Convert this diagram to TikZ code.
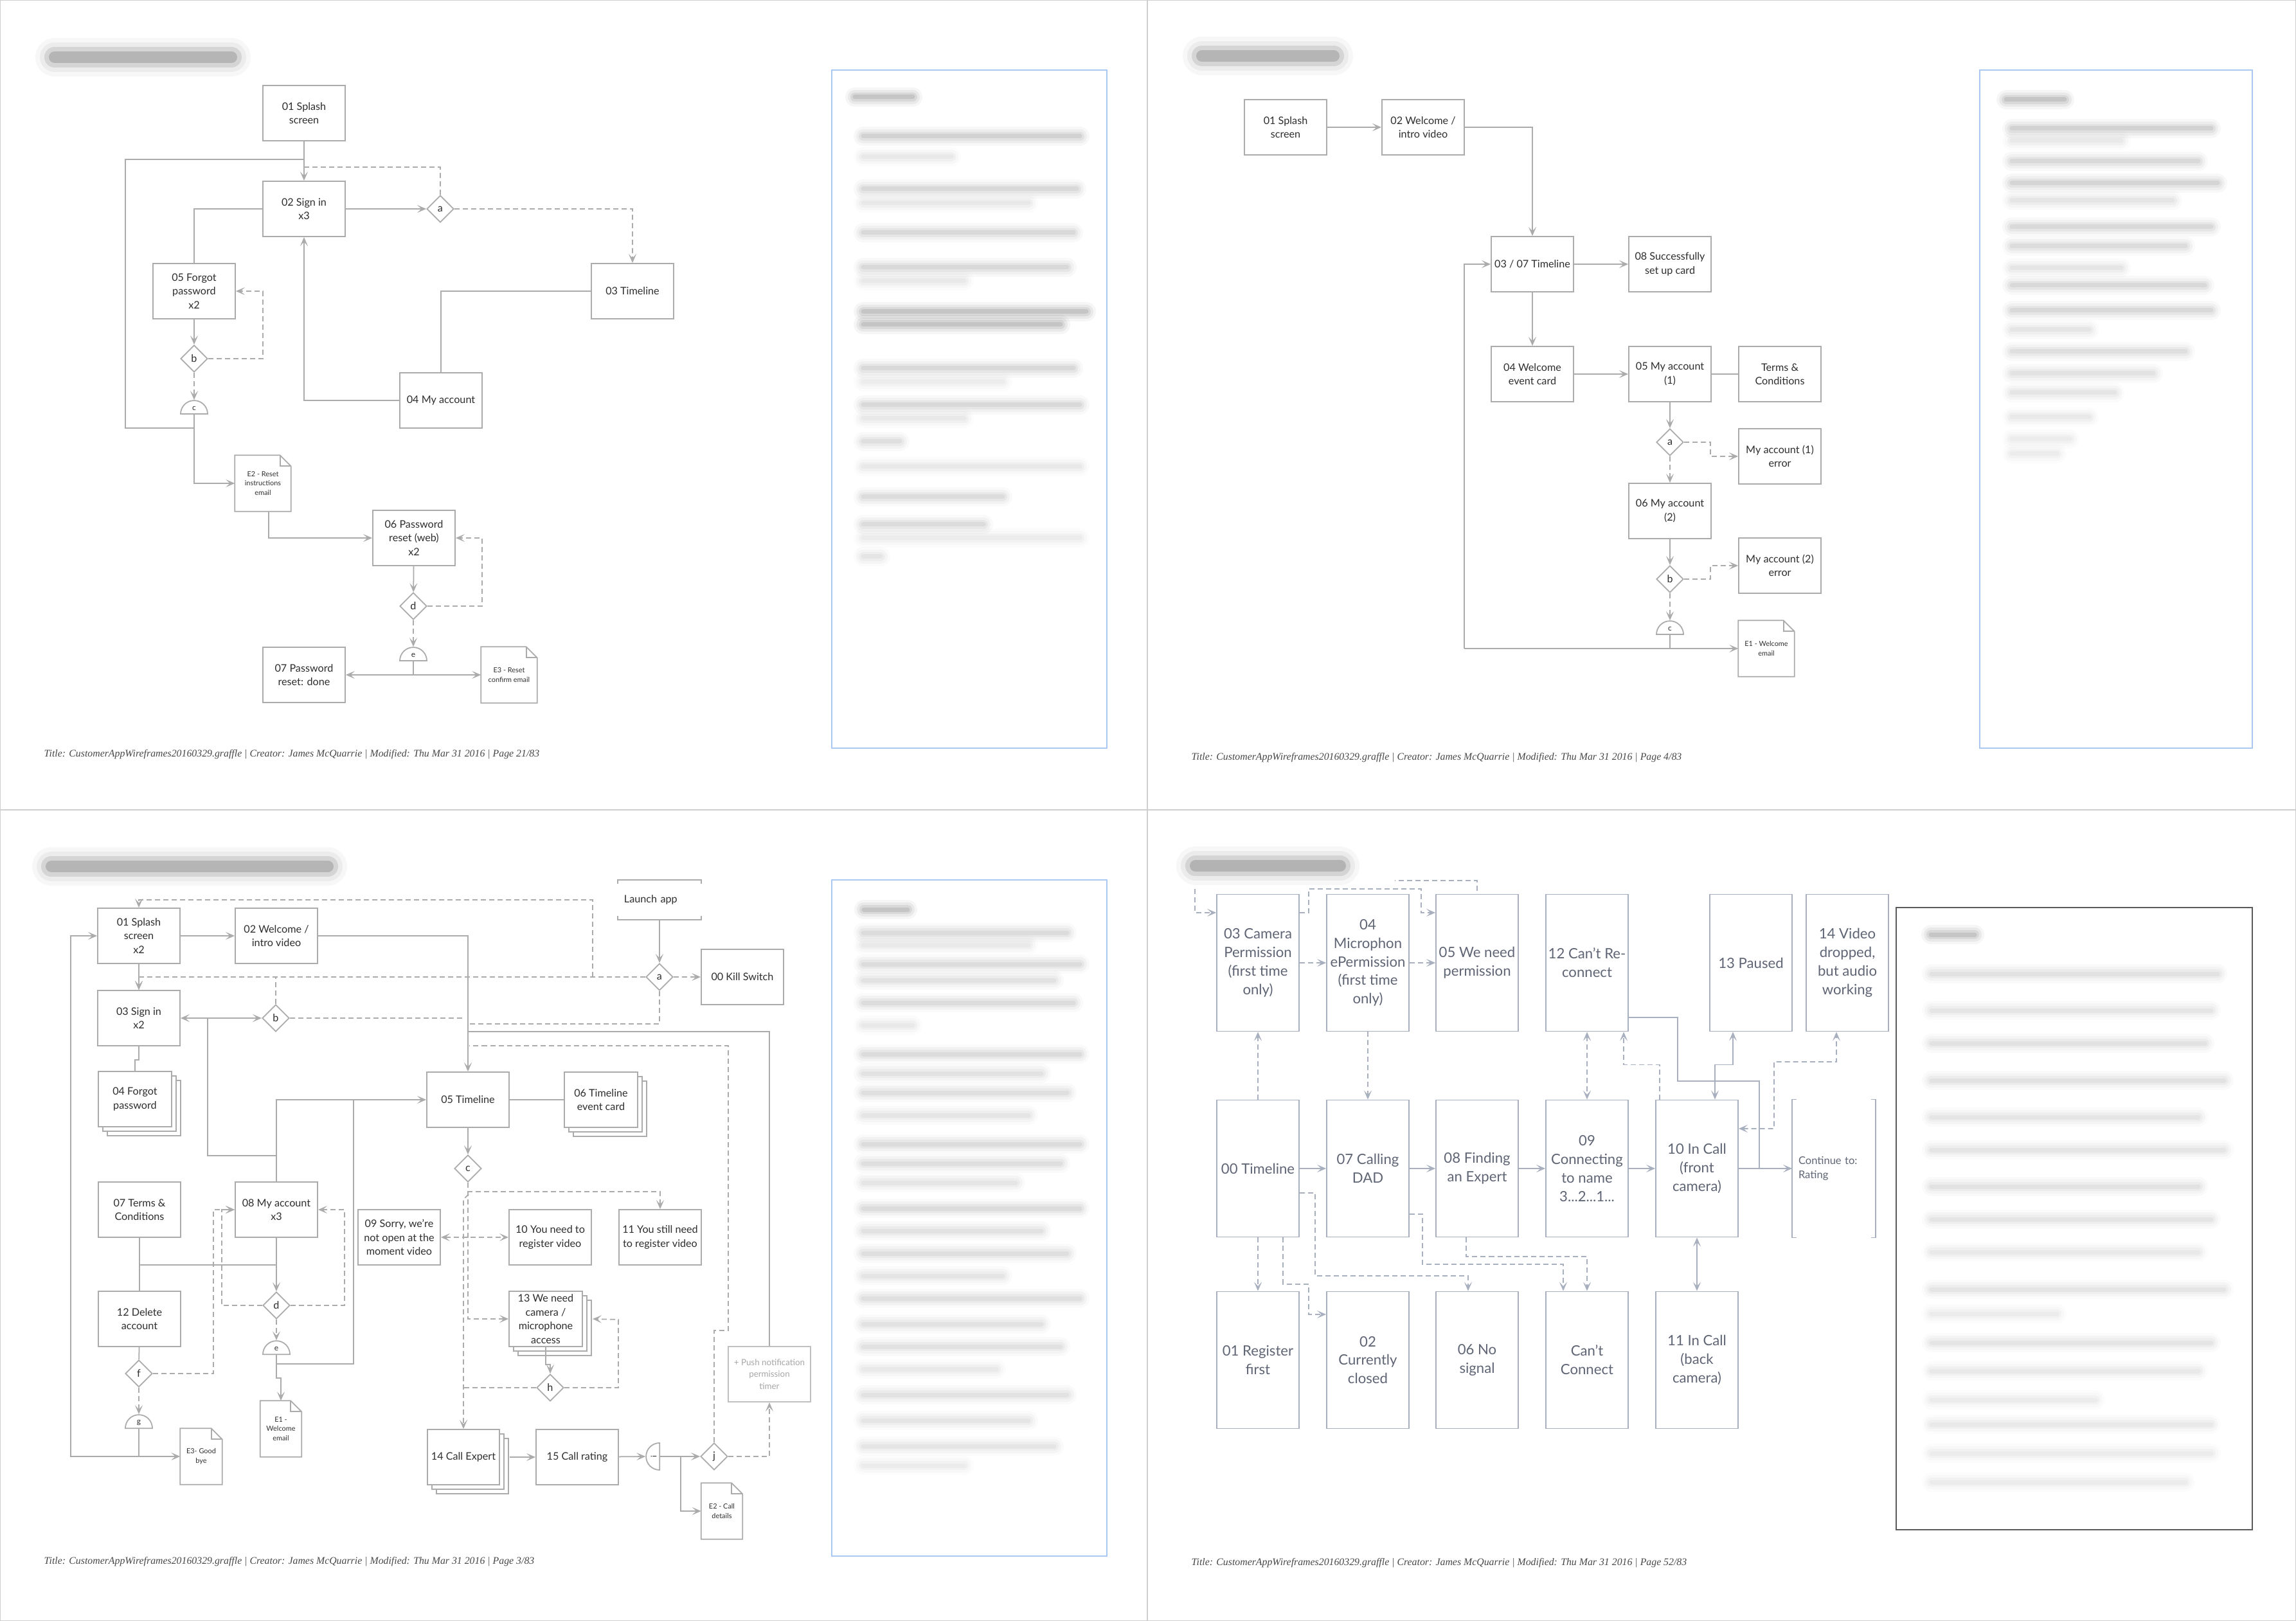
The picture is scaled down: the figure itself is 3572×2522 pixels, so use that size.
\documentclass[tikz,border=0pt]{standalone}
\usepackage{fontspec}
\setmainfont{Lato}
\newfontfamily\footserif{Liberation Serif}
\usepackage{tikz}
\usetikzlibrary{arrows.meta,positioning,calc,shapes.geometric,shadows}
\usepackage{xcolor}
\definecolor{edgegray}{HTML}{ABABAB}
\definecolor{inkgray}{HTML}{2E2E2E}
\definecolor{slate}{HTML}{A8AFBE}
\definecolor{slateink}{HTML}{5F6574}
\definecolor{paneblue}{HTML}{A9C9F2}
\definecolor{pagerule}{HTML}{CFCFCF}
\colorlet{edgecol}{edgegray}
\colorlet{inkcol}{inkgray}
\newcommand{\boxfont}{\fontsize{4.6}{6.1}\selectfont}
\newcommand{\bigfont}{\fontsize{6.3}{8.2}\selectfont}
\newcommand{\tinyfont}{\fontsize{3.1}{4.2}\selectfont}
\newcommand{\gatefont}{\fontsize{3.4}{4}\selectfont}
\newcommand{\pushfont}{\fontsize{3.8}{5.3}\selectfont}
\newcommand{\contfont}{\fontsize{4.7}{6.2}\selectfont}
\newcommand{\footfont}{\footserif\itshape\fontsize{4.5}{5}\selectfont}
% folded corner of an e-mail sheet
\newcommand{\mailedge}[1]{%
  \draw[link] (#1.south west) -- (#1.north west) -- ([xshift=-0.17cm]#1.north east)
    -- ([yshift=-0.17cm]#1.north east) -- (#1.south east) -- cycle;
  \draw[link] ([xshift=-0.17cm]#1.north east) |- ([yshift=-0.17cm]#1.north east);}
% open note, ruled top and bottom
\newcommand{\notebrackets}[1]{%
  \draw[link] ([yshift=-0.06cm]#1.north west) -- (#1.north west) -- (#1.north east) -- ([yshift=-0.06cm]#1.north east);
  \draw[link] ([yshift=0.06cm]#1.south west) -- (#1.south west) -- (#1.south east) -- ([yshift=0.06cm]#1.south east);}
% open note, ruled left and right
\newcommand{\sidebrackets}[1]{%
  \draw[link] ([xshift=0.07cm]#1.north west) -- (#1.north west) -- (#1.south west) -- ([xshift=0.07cm]#1.south west);
  \draw[link] ([xshift=-0.07cm]#1.north east) -- (#1.north east) -- (#1.south east) -- ([xshift=-0.07cm]#1.south east);}
% blurred copy
\newcommand{\fuzz}[4]{%
  \draw[line cap=round, line width=0.30cm, black!#4, opacity=0.04] (#1,#3) -- (#2,#3);
  \draw[line cap=round, line width=0.22cm, black!#4, opacity=0.06] (#1,#3) -- (#2,#3);
  \draw[line cap=round, line width=0.14cm, black!#4, opacity=0.08] (#1,#3) -- (#2,#3);
  \draw[line cap=round, line width=0.07cm, black!#4, opacity=0.10] (#1,#3) -- (#2,#3);}
\newcommand{\titlefuzz}[3]{%
  \draw[line cap=round, line width=0.60cm, black!60, opacity=0.05] (#1,#3) -- (#2,#3);
  \draw[line cap=round, line width=0.46cm, black!60, opacity=0.08] (#1,#3) -- (#2,#3);
  \draw[line cap=round, line width=0.32cm, black!70, opacity=0.14] (#1,#3) -- (#2,#3);
  \draw[line cap=round, line width=0.18cm, black!80, opacity=0.20] (#1,#3) -- (#2,#3);}

\begin{document}
\begin{tikzpicture}[x=0.01cm, y=-0.01cm,
  vtip/.tip={Stealth[length=0.14cm,width=0.12cm,inset=0.065cm]},
  link/.style={draw=edgecol, line width=0.5pt},
  arr/.style={link, -vtip},
  arr2/.style={link, vtip-vtip},
  dsh/.style={dash pattern=on 0.08cm off 0.05cm},
  card/.style={draw=edgecol, fill=white, line width=0.5pt, text=inkcol, font=\boxfont,
    align=center, inner sep=1pt, minimum width=1.28cm, minimum height=0.86cm},
  tall/.style={card, font=\bigfont, minimum height=2.13cm},
  stack/.style={card, double copy shadow={shadow xshift=0.07cm, shadow yshift=-0.07cm,
    fill=white, draw=edgecol, line width=0.5pt}},
  choice/.style={diamond, aspect=1, draw=edgecol, fill=white, line width=0.5pt,
    minimum size=0.42cm, inner sep=0pt, text=inkcol, font=\boxfont},
  gate/.style={semicircle, draw=edgecol, fill=white, line width=0.5pt, minimum width=0.42cm,
    minimum height=0.21cm, inner sep=0pt, text=inkcol, font=\gatefont},
  mail/.style={text=inkcol, font=\tinyfont, align=center, inner sep=0pt,
    minimum width=0.86cm, minimum height=0.86cm},
  footnote/.style={anchor=west, inner sep=0pt, font=\footfont, text=black!72}
]
\useasboundingbox (0,0) rectangle (3572,2522);
% page frames
\draw[pagerule, line width=0.8pt] (0,0) rectangle (3572,2522);
\draw[pagerule, line width=0.8pt] (1785,0) -- (1785,2522);
\draw[pagerule, line width=0.8pt] (0,1260) -- (3572,1260);

%%%%%%%% page 21
\titlefuzz{85}{360}{89}
\node[card] (splash1) at (473,176) {01 Splash\\screen};
\node[card] (signin1) at (473,325) {02 Sign in\\x3};
\node[choice] (a1) at (685,325) {a};
\node[card] (timeline1) at (984,453) {03 Timeline};
\node[card] (forgot1) at (302,453) {05 Forgot\\password\\x2};
\node[choice] (b1) at (302,558) {b};
\node[gate, anchor=chord center] (c1) at (302,645) {c};
\node[card] (account1) at (686,623) {04 My account};
\node[mail] (resetmail1) at (409,752) {E2 - Reset\\instructions\\email};
\node[card] (pwreset1) at (644,837) {06 Password\\reset (web)\\x2};
\node[choice] (d1) at (643,943) {d};
\node[gate, anchor=chord center] (e1) at (643,1029) {e};
\node[card] (done1) at (473,1050) {07 Password\\reset: done};
\node[mail] (confirmmail1) at (792,1050) {E3 - Reset\\confirm email};
\mailedge{resetmail1}
\mailedge{confirmmail1}

\draw[arr] (splash1) -- (signin1);
\draw[link] (c1.chord center) -- ++(0,21) -| (195,248) -- (473,248);
\draw[arr] (c1.chord center) |- (resetmail1.west);
\draw[link,dsh] (a1.north) |- (473,260);
\draw[arr] (signin1) -- (a1);
\draw[arr,dsh] (a1.east) -| (timeline1.north);
\draw[link] (signin1.west) -| (forgot1.north);
\draw[arr] (forgot1) -- (b1);
\draw[arr,dsh] (b1.east) -| (409,453) -- (forgot1.east);
\draw[arr,dsh] (b1.south) -- (c1.apex);
\draw[arr] (account1.west) -| (signin1.south);
\draw[link] (timeline1.west) -| (account1.north);
\draw[arr] ([xshift=0.09cm]resetmail1.south) |- (pwreset1.west);
\draw[arr] (pwreset1) -- (d1);
\draw[arr,dsh] (d1.east) -| (750,837) -- (pwreset1.east);
\draw[arr,dsh] (d1.south) -- (e1.apex);
\draw[link] (e1.chord center) -- (643,1050);
\draw[arr] (643,1050) -- (done1.east);
\draw[arr] (643,1050) -- (confirmmail1.west);

% notes panel
\draw[paneblue, line width=0.5pt] (1294,109) rectangle (1722,1164);
\fuzz{1330}{1420}{151}{90}
\foreach \y/\xe/\s in {212/1680/70, 244/1480/35, 294/1675/60, 316/1600/35, 362/1670/60,
  416/1660/60, 437/1500/35, 485/1690/90, 505/1650/90, 573/1670/60, 594/1560/30,
  630/1680/60, 651/1500/35, 687/1400/50, 726/1680/35, 773/1560/55, 816/1530/55,
  837/1680/30, 866/1370/40}
  {\fuzz{1343}{\xe}{\y}{\s}}
\node[footnote] (foot1) at (68,1174) {Title: CustomerAppWireframes20160329.graffle | Creator: James McQuarrie | Modified: Thu Mar 31 2016 | Page 21/83};

%%%%%%%% page 4
\titlefuzz{1870}{2075}{87}
\node[card] (splash2) at (2000,198) {01 Splash\\screen};
\node[card] (welcome2) at (2214,198) {02 Welcome /\\intro video};
\node[card] (timeline2) at (2384,411) {03 / 07 Timeline};
\node[card] (setup2) at (2598,411) {08 Successfully\\set up card};
\node[card] (eventcard2) at (2384,582) {04 Welcome\\event card};
\node[card] (account2a) at (2598,582) {05 My account\\(1)};
\node[card] (terms2) at (2769,582) {Terms \&\\Conditions};
\node[choice] (a2) at (2598,688) {a};
\node[card] (error2a) at (2769,710) {My account (1)\\error};
\node[card] (account2b) at (2598,795) {06 My account\\(2)};
\node[choice] (b2) at (2598,901) {b};
\node[card] (error2b) at (2769,880) {My account (2)\\error};
\node[gate, anchor=chord center] (c2) at (2598,988) {c};
\node[mail] (welcomemail2) at (2748,1009) {E1 - Welcome\\email};
\mailedge{welcomemail2}

\draw[arr] (splash2) -- (welcome2);
\draw[arr] (welcome2.east) -| (timeline2.north);
\draw[arr] (timeline2) -- (setup2);
\draw[arr] (timeline2) -- (eventcard2);
\draw[arr] (eventcard2) -- (account2a);
\draw[link] (account2a) -- (terms2);
\draw[arr] (account2a) -- (a2);
\draw[arr,dsh] (a2.east) -| (2661,710) -- (error2a.west);
\draw[arr,dsh] (a2) -- (account2b);
\draw[arr] (account2b) -- (b2);
\draw[arr,dsh] (b2.east) -| (2661,880) -- (error2b.west);
\draw[arr,dsh] (b2.south) -- (c2.apex);
\draw[link] (c2.chord center) -- (2598,1009);
\draw[arr] (2278,1009) -- (welcomemail2.west);
\draw[arr] (2278,1009) |- (timeline2.west);

\draw[paneblue, line width=0.5pt] (3080,109) rectangle (3504,1164);
\fuzz{3121}{3212}{155}{90}
\foreach \y/\xe/\s in {200/3440/70, 219/3300/35, 251/3420/60, 285/3450/65, 312/3380/40,
  353/3440/60, 383/3400/55, 417/3300/40, 444/3430/60, 483/3440/60, 513/3250/40,
  547/3400/50, 581/3350/45, 611/3290/40, 649/3250/35, 683/3220/30, 706/3200/30}
  {\fuzz{3130}{\xe}{\y}{\s}}
\node[footnote] (foot2) at (1853,1179) {Title: CustomerAppWireframes20160329.graffle | Creator: James McQuarrie | Modified: Thu Mar 31 2016 | Page 4/83};

%%%%%%%% page 3
\titlefuzz{80}{510}{1348}
\node[card] (splash3) at (216,1456) {01 Splash\\screen\\x2};
\node[card] (welcome3) at (430,1456) {02 Welcome /\\intro video};
\node[card] (signin3) at (216,1584) {03 Sign in\\x2};
\node[stack, minimum width=1.14cm] (forgot3) at (210,1710) {04 Forgot\\password};
\node[card] (terms3) at (217,1882) {07 Terms \&\\Conditions};
\node[card] (account3) at (430,1882) {08 My account\\x3};
\node[card] (delete3) at (217,2052) {12 Delete\\account};
\node[card, draw=none, fill=none, align=left, text width=1.1cm, minimum height=0.6cm] (launch3) at (1026,1400) {Launch app};
\notebrackets{launch3}
\node[card] (kill3) at (1155,1520) {00 Kill Switch};
\node[card] (timeline3) at (728,1711) {05 Timeline};
\node[stack, minimum width=1.14cm] (eventcard3) at (935,1711) {06 Timeline\\event card};
\node[card] (sorry3) at (621,1925) {09 Sorry, we’re\\not open at the\\moment video};
\node[card] (needvideo3) at (856,1925) {10 You need to\\register video};
\node[card] (stillvideo3) at (1027,1925) {11 You still need\\to register video};
\node[stack, minimum width=1.14cm] (camera3) at (849,2052) {13 We need\\camera /\\microphone\\access};
\node[stack, minimum width=1.12cm] (expert3) at (721,2267) {14 Call Expert};
\node[card] (rating3) at (898,2267) {15 Call rating};
\node[card, draw=edgecol!75, text=black!35, font=\pushfont] (push3) at (1197,2138) {+ Push notification\\permission\\timer};
\node[mail, minimum width=0.63cm] (welcomemail3) at (437,2223) {E1 -\\Welcome\\email};
\node[mail, minimum width=0.64cm] (byemail3) at (313,2266) {E3- Good\\bye};
\node[mail, minimum width=0.63cm] (callmail3) at (1123,2351) {E2 - Call\\details};
\mailedge{welcomemail3}
\mailedge{byemail3}
\mailedge{callmail3}
\node[choice] (a3) at (1026,1520) {a};
\node[choice] (b3) at (429,1584) {b};
\node[choice] (c3) at (728,1818) {c};
\node[choice] (d3) at (430,2031) {d};
\node[choice] (f3) at (216,2137) {f};
\node[choice] (h3) at (856,2159) {h};
\node[choice] (j3) at (1111,2266) {j};
\node[gate, anchor=chord center] (e3) at (430,2108) {e};
\node[gate, anchor=chord center] (g3) at (216,2223) {g};
\node[gate, shape border rotate=90, anchor=chord center] (i3) at (1027,2266) {\rotatebox{90}{i}};

% left loop
\draw[link] (g3.chord center) -- (216,2266);
\draw[arr] (216,2266) -- (byemail3.west);
\draw[arr] (216,2266) -- (110,2266) |- (splash3.west);
\draw[arr] (splash3) -- (welcome3);
\draw[arr] (splash3) -- (signin3);
% kill switch
\draw[arr] (launch3) -- (a3);
\draw[arr,dsh] (a3) -- (kill3);
\draw[arr,dsh] (a3.west) -| (signin3.north);
\draw[arr,dsh] (922,1520) |- (216,1400) -- (splash3.north);
\draw[link,dsh] (b3.north) -- (429,1520);
\draw[link,dsh] (a3.south) |- (728,1593);
\draw[arr] (welcome3.east) -| (timeline3.north);
% sign in and account
\draw[arr] (323,1584) -- (signin3.east);
\draw[arr] (323,1584) -- (b3.west);
\draw[link] (430,1798) -| (323,1584);
\draw[arr] (account3.north) |- (timeline3.west);
\draw[link,dsh] (b3.east) -- (721,1584);
\draw[link] (signin3.south) -- ++(0,21) -| (forgot3.north);
\draw[link] (timeline3) -- (eventcard3);
% outer loops
\draw[link] (728,1605) -| (push3.north);
\draw[link,dsh] (j3.north) |- (1133,2070) |- (730,1627);
% timeline checks
\draw[arr] (timeline3) -- (c3);
\draw[arr,dsh] (c3.south) -- ++(0,14) -| (stillvideo3.north);
\draw[arr,dsh] (c3.south) |- (camera3.west);
\draw[arr,dsh] (729,1858) -- (721,1866) -- (expert3.north);
\draw[arr2,dsh] (sorry3) -- (needvideo3);
\draw[arr] (camera3.south) -- ++(0,27) -| (h3.north);
\draw[arr,dsh] (h3.east) -| (962,2053) -- ($(camera3.east)+(15,0)$);
\draw[link,dsh] (h3.west) -- (721,2159);
\draw[arr] ($(expert3.east)+(15,0)$) -- (rating3);
\draw[arr] (rating3) -- (i3.apex);
\draw[arr] (i3.chord center) -- (j3);
\draw[arr] (1059,2266) |- (callmail3.west);
\draw[arr,dsh] (j3.east) -| (push3.south);
% account side
\draw[link] (terms3) -- (delete3);
\draw[link] (216,1968) -- (430,1968);
\draw[arr] (account3) -- (d3);
\draw[link] (delete3) -- (f3);
\draw[arr,dsh] (f3.east) -| (332,1882) -- (account3.west);
\draw[arr,dsh] (d3.west) -| (345,1882) -- (account3.west);
\draw[arr,dsh] (d3.east) -| (536,1882) -- (account3.east);
\draw[arr,dsh] (d3) -- (e3.apex);
\draw[link] (e3.chord center) -- ++(0,14) -| (550,1711);
\draw[arr] (e3.chord center) -- ++(0,36) -| (welcomemail3.north);
\draw[arr,dsh] (f3) -- (g3.apex);

\draw[paneblue, line width=0.5pt] (1294,1369) rectangle (1722,2421);
\fuzz{1344}{1412}{1415}{90}
\foreach \y/\xe/\s in {1451/1660/55, 1470/1600/35, 1500/1680/55, 1525/1640/45, 1560/1670/55,
  1595/1420/35, 1640/1680/55, 1670/1620/45, 1700/1660/50, 1735/1600/40, 1780/1680/55,
  1810/1650/50, 1840/1580/40, 1880/1680/55, 1915/1620/45, 1950/1660/50, 1985/1560/40,
  2020/1680/50, 2060/1620/45, 2095/1650/45, 2130/1550/35, 2170/1660/45, 2210/1600/40,
  2250/1640/40, 2280/1500/30}
  {\fuzz{1343}{\xe}{\y}{\s}}
\node[footnote] (foot3) at (68,2430) {Title: CustomerAppWireframes20160329.graffle | Creator: James McQuarrie | Modified: Thu Mar 31 2016 | Page 3/83};

%%%%%%%% page 52
\begin{scope}
\colorlet{edgecol}{slate}
\colorlet{inkcol}{slateink}
\node[tall] (camera4) at (1957,1498) {03 Camera\\Permission\\(first time\\only)};
\node[tall] (micro4) at (2128,1498) {04\\Microphon\\ePermission\\(first time\\only)};
\node[tall] (needperm4) at (2298,1498) {05 We need\\permission};
\node[tall] (reconnect4) at (2469,1498) {12 Can’t Re-\\connect};
\node[tall] (paused4) at (2724,1498) {13 Paused};
\node[tall] (video4) at (2874,1498) {14 Video\\dropped,\\but audio\\working};
\node[tall] (timeline4) at (1957,1818) {00 Timeline};
\node[tall] (calling4) at (2128,1818) {07 Calling\\DAD};
\node[tall] (finding4) at (2298,1818) {08 Finding\\an Expert};
\node[tall] (connecting4) at (2469,1818) {09\\Connecting\\to name\\3...2...1...};
\node[tall] (incall4) at (2640,1818) {10 In Call\\(front\\camera)};
\node[tall, draw=none, fill=none, align=left, text width=1.1cm, font=\contfont] (continue4) at (2853,1818) {Continue to:\\Rating};
\sidebrackets{continue4}
\node[tall] (register4) at (1957,2116) {01 Register\\first};
\node[tall] (closed4) at (2128,2116) {02\\Currently\\closed};
\node[tall] (nosignal4) at (2298,2116) {06 No\\signal};
\node[tall] (cantconnect4) at (2469,2116) {Can’t\\Connect};
\node[tall] (backcam4) at (2640,2116) {11 In Call\\(back\\camera)};

\draw[arr,dsh] (timeline4) -- (camera4);
\draw[arr,dsh] (camera4) -- (micro4);
\draw[arr,dsh] (micro4) -- (needperm4);
\draw[arr,dsh] ([yshift=0.78cm]camera4.east) -- ++(14,0) |- (2211,1383) |- ([yshift=0.78cm]needperm4.west);
\draw[arr,dsh] (1859,1370) |- ([yshift=0.78cm]camera4.west);
\draw[link,dsh] (2150,1370) -| (needperm4.north);
\draw[arr,dsh] (micro4) -- (calling4);
\draw[arr2,dsh] (reconnect4) -- (connecting4);
\draw[arr,dsh] ([xshift=-0.58cm]incall4.north) -- ++(0,-54) -| ([xshift=0.57cm]reconnect4.south);
\draw[link] ([yshift=-0.85cm]reconnect4.east) -| (2610,1682) -| (2737,1818);
\draw[arr2] ([xshift=0.28cm]incall4.north) -- ++(0,-54) -| ([xshift=-0.28cm]paused4.south);
\draw[arr2,dsh] ([yshift=0.62cm]incall4.east) -- ++(55,0) |- (2857,1652) -- ([xshift=-0.17cm]video4.south);
\draw[arr] (timeline4) -- (calling4);
\draw[arr] (calling4) -- (finding4);
\draw[arr] (finding4) -- (connecting4);
\draw[arr] (connecting4) -- (incall4);
\draw[arr] (incall4) -- (continue4);
\draw[arr2] (incall4) -- (backcam4);
\draw[arr,dsh] (timeline4) -- (register4);
\draw[arr,dsh] ([xshift=0.39cm]timeline4.south) |- (2036,1998) |- ([yshift=0.71cm]closed4.west);
\draw[arr,dsh] ([yshift=-0.38cm]timeline4.east) -| (2046,1985) -| ([xshift=-0.14cm]nosignal4.north);
\draw[arr,dsh] ([yshift=-0.71cm]calling4.east) -| (2213,1967) -| ([xshift=-0.37cm]cantconnect4.north);
\draw[arr,dsh] ([xshift=-0.17cm]finding4.south) |- (2469,1955) -- (cantconnect4.north);
\end{scope}
\fill[white] (1830,1290) rectangle (2170,1380);
\titlefuzz{1860}{2085}{1347}

\draw[black!65, line width=0.5pt] (2950,1412) rectangle (3504,2380);
\fuzz{3004}{3072}{1454}{90}
\foreach \y/\xe/\s in {1515/3450/45, 1572/3440/40, 1623/3430/45, 1681/3460/45, 1738/3420/40,
  1789/3460/40, 1846/3420/45, 1897/3440/40, 1948/3420/35, 2006/3460/40, 2044/3200/30,
  2089/3440/40, 2133/3420/35, 2178/3260/30, 2216/3440/35, 2261/3440/30, 2306/3400/30}
  {\fuzz{3005}{\xe}{\y}{\s}}
\node[footnote] (foot4) at (1853,2432) {Title: CustomerAppWireframes20160329.graffle | Creator: James McQuarrie | Modified: Thu Mar 31 2016 | Page 52/83};
\end{tikzpicture}
\end{document}
